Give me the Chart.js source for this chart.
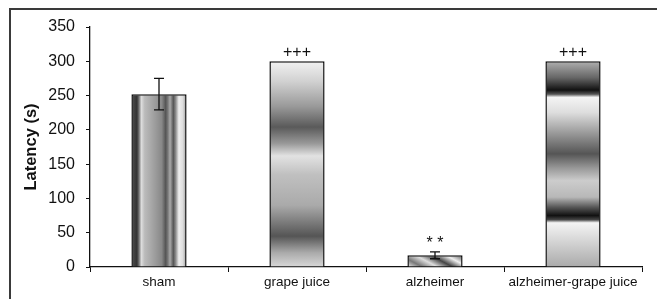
<!DOCTYPE html>
<html>
<head>
<meta charset="utf-8">
<script src="https://cdn.jsdelivr.net/npm/chart.js@4/dist/chart.umd.min.js"></script>
<style>
html,body{margin:0;padding:0;background:#fff;}
#wrap{width:657px;height:299px;}
</style>
</head>
<body>
<div id="wrap"><canvas id="c" width="657" height="299"></canvas></div>
<script>
const categories = ['sham', 'grape juice', 'alzheimer', 'alzheimer-grape juice'];
const latency = [252, 300, 17, 300];
const errors = [23, 0, 5, 0];
const marks = ['', '+++', '* *', '+++'];
const yTicks = [0, 50, 100, 150, 200, 250, 300, 350];

const BAR_PCT = 0.4;
const FONT = '"Liberation Sans", Arial, sans-serif';

function barBox(chart, i) {
  const x = chart.scales.x, y = chart.scales.y;
  const cw = (x.right - x.left) / categories.length;
  const w = cw * BAR_PCT;
  const cx = x.getPixelForValue(i);
  return {l: cx - w / 2, r: cx + w / 2, t: y.getPixelForValue(latency[i]), b: y.getPixelForValue(0)};
}

function addStops(g, stops) { stops.forEach(s => g.addColorStop(s[0], s[1])); return g; }

function fillFor(ctx) {
  const chart = ctx.chart;
  if (!chart.scales || !chart.scales.x || !chart.chartArea) return '#999';
  const i = ctx.dataIndex;
  const c = chart.ctx;
  const b = barBox(chart, i);
  if (i === 0) {
    return addStops(c.createLinearGradient(b.l, 0, b.r, 0), [
      [0, '#888'], [0.04, '#444'], [0.1, '#333'], [0.14, '#777'], [0.18, '#ddd'], [0.24, '#bbb'],
      [0.45, '#999'], [0.55, '#888'], [0.62, '#555'], [0.66, '#777'], [0.7, '#aaa'], [0.76, '#555'],
      [0.8, '#888'], [0.86, '#eee'], [0.93, '#ddd'], [1, '#999']]);
  }
  if (i === 1) {
    return addStops(c.createLinearGradient(0, b.t, 0, b.b), [
      [0, '#f2f2f2'], [0.1, '#d0d0d0'], [0.22, '#999'], [0.32, '#5a5a5a'], [0.4, '#999'],
      [0.46, '#e2e2e2'], [0.55, '#c0c0c0'], [0.7, '#aaa'], [0.85, '#555'], [0.93, '#aaa'], [1, '#d8d8d8']]);
  }
  if (i === 3) {
    return addStops(c.createLinearGradient(0, b.t, 0, b.b), [
      [0, '#b0b0b0'], [0.08, '#666'], [0.14, '#111'], [0.16, '#555'], [0.175, '#f4f4f4'],
      [0.25, '#ddd'], [0.35, '#999'], [0.45, '#555'], [0.52, '#999'], [0.58, '#ccc'], [0.66, '#b8b8b8'],
      [0.71, '#555'], [0.75, '#111'], [0.77, '#444'], [0.785, '#f4f4f4'], [0.9, '#ccc'], [1, '#aaa']]);
  }
  const g = c.createLinearGradient(b.l, b.b, b.l + 22, b.t - 30);
  return addStops(g, [[0, '#eee'], [0.15, '#777'], [0.3, '#ddd'], [0.45, '#444'], [0.6, '#eee'],
    [0.75, '#666'], [0.9, '#ddd'], [1, '#888']]);
}

const framePlugin = {
  id: 'frame',
  beforeDraw(chart) {
    const c = chart.ctx;
    c.save();
    c.fillStyle = '#fff';
    c.fillRect(0, 0, chart.width, chart.height);
    c.strokeStyle = '#3a3a3a';
    c.lineWidth = 2;
    c.beginPath();
    c.moveTo(10, 299);
    c.lineTo(10, 9);
    c.lineTo(657, 9);
    c.stroke();
    c.restore();
  }
};

const errPlugin = {
  id: 'errs',
  afterDatasetsDraw(chart) {
    const c = chart.ctx, y = chart.scales.y, x = chart.scales.x;
    c.save();
    c.strokeStyle = '#111';
    c.lineWidth = 1.3;
    latency.forEach((v, i) => {
      const cx = x.getPixelForValue(i);
      const e = errors[i];
      if (e > 0) {
        const t = y.getPixelForValue(v + e), bt = y.getPixelForValue(v - e);
        c.beginPath();
        c.moveTo(cx, t); c.lineTo(cx, bt);
        c.moveTo(cx - 5, t); c.lineTo(cx + 5, t);
        c.moveTo(cx - 5, bt); c.lineTo(cx + 5, bt);
        c.stroke();
      }
      if (marks[i]) {
        c.fillStyle = '#111';
        c.font = '16px ' + FONT;
        c.textAlign = 'center';
        c.textBaseline = 'alphabetic';
        c.fillText(marks[i], cx, y.getPixelForValue(v + e) - 4);
      }
    });
    c.restore();
  }
};

new Chart(document.getElementById('c'), {
  type: 'bar',
  data: {
    labels: categories,
    datasets: [{
      data: latency,
      backgroundColor: fillFor,
      borderColor: '#111',
      borderWidth: 1.5,
      borderSkipped: 'bottom',
      categoryPercentage: 1,
      barPercentage: BAR_PCT
    }]
  },
  options: {
    responsive: false,
    animation: false,
    devicePixelRatio: 1,
    layout: {padding: {top: 27, right: 15, left: 0, bottom: 0}},
    plugins: {legend: {display: false}, tooltip: {enabled: false}},
    scales: {
      x: {
        afterFit(s) { s.height = 32; },
        grid: {display: true, drawOnChartArea: false, offset: true, color: '#111', tickLength: 5, lineWidth: 1},
        border: {display: true, color: '#111', width: 1.3},
        ticks: {color: '#111', padding: 2, autoSkip: false, maxRotation: 0, minRotation: 0,
          font: {family: FONT, size: 13.5}}
      },
      y: {
        min: 0, max: 350,
        afterFit(s) { s.width = 90; },
        afterBuildTicks(s) { s.ticks = yTicks.map(v => ({value: v})); },
        grid: {display: true, drawOnChartArea: false, color: '#111', tickLength: 4, lineWidth: 1},
        border: {display: true, color: '#111', width: 1.3},
        ticks: {color: '#111', padding: 11, font: {family: FONT, size: 16}},
        title: {display: true, text: 'Latency (s)', color: '#111', padding: {top: 22, bottom: 0},
          font: {family: FONT, size: 16.5, weight: 'bold'}}
      }
    }
  },
  plugins: [framePlugin, errPlugin]
});
</script>
</body>
</html>
